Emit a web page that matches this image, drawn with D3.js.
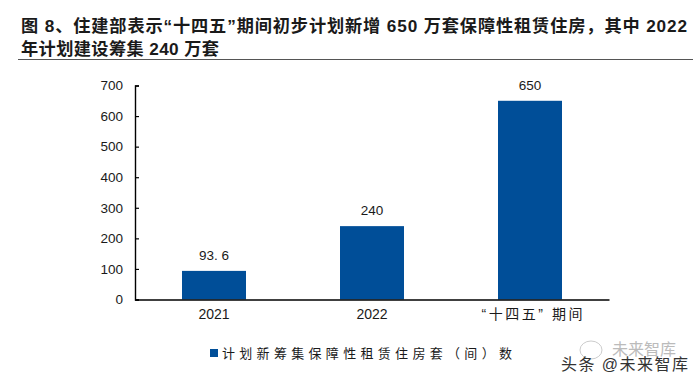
<!DOCTYPE html>
<html>
<head>
<meta charset="utf-8">
<script src="https://cdn.jsdelivr.net/npm/d3@7"></script>
<style>
  html, body { margin: 0; padding: 0; background: #fff; }
  svg { display: block; }
  text { font-family: "Liberation Sans", "Noto Sans CJK SC", sans-serif; fill: #1a1a1a; }
</style>
</head>
<body>
<div id="chart"></div>
<script>
// Data
const categories = ["2021", "2022", "“十四五” 期间"];
const values = [93.6, 240, 650];
const valueLabels = ["93. 6", "240", "650"];
const yTicks = [0, 100, 200, 300, 400, 500, 600, 700];
const titleLines = [
  "图 8、住建部表示“十四五”期间初步计划新增 650 万套保障性租赁住房，其中 2022",
  "年计划建设筹集 240 万套"
];
const legendLabel = "计划新筹集保障性租赁住房套（间）数";

const width = 700;
const height = 384;
const margin = { top: 85.5, right: 91, bottom: 84.5, left: 135 };
const blue = "#004e98";

const svg = d3.select("#chart").append("svg")
  .attr("width", width)
  .attr("height", height);

// Title
svg.selectAll(".title")
  .data(titleLines)
  .enter()
  .append("text")
  .attr("class", "title")
  .attr("x", 21)
  .attr("y", (d, i) => 32 + i * 23)
  .attr("font-size", 17.2)
  .attr("font-weight", "bold")
  .attr("textLength", (d, i) => i === 0 ? 666 : 198)
  .attr("lengthAdjust", "spacing")
  .text(d => d);

// Rule under the title
svg.append("line")
  .attr("x1", 18)
  .attr("x2", 693)
  .attr("y1", 59.5)
  .attr("y2", 59.5)
  .attr("stroke", "#555")
  .attr("stroke-width", 1.2);

// Scales
const xScale = d3.scaleBand()
  .domain(categories)
  .range([margin.left, width - margin.right])
  .paddingInner(0.595)
  .paddingOuter(0.2975);

const yScale = d3.scaleLinear()
  .domain([0, 700])
  .range([height - margin.bottom, margin.top]);

// Bars
svg.selectAll(".bar")
  .data(values)
  .enter()
  .append("rect")
  .attr("class", "bar")
  .attr("x", (d, i) => xScale(categories[i]))
  .attr("y", d => yScale(d))
  .attr("width", xScale.bandwidth())
  .attr("height", d => yScale(0) - yScale(d))
  .attr("fill", blue);

// Value labels
svg.selectAll(".value")
  .data(values)
  .enter()
  .append("text")
  .attr("class", "value")
  .attr("x", (d, i) => xScale(categories[i]) + xScale.bandwidth() / 2)
  .attr("y", d => yScale(d) - 11)
  .attr("text-anchor", "middle")
  .attr("font-size", 13.5)
  .text((d, i) => valueLabels[i]);

// Axes
const yAxis = svg.append("g")
  .attr("transform", `translate(${margin.left},0)`)
  .call(d3.axisLeft(yScale).tickValues(yTicks).tickSize(-4).tickPadding(12));
const xAxis = svg.append("g")
  .attr("transform", `translate(0,${height - margin.bottom})`)
  .call(d3.axisBottom(xScale).tickSize(0).tickPadding(10));

[yAxis, xAxis].forEach(g => {
  g.attr("font-family", null);
  g.select(".domain").attr("stroke", "#000").attr("stroke-width", 1.4);
  g.selectAll(".tick line").attr("stroke", "#000").attr("stroke-width", 1.2);
  g.selectAll("text").attr("font-size", 13.5);
});
xAxis.selectAll("text")
  .attr("font-size", 14)
  .attr("dx", (d, i) => i === 2 ? 2 : 0)
  .attr("textLength", (d, i) => i === 2 ? 101 : null);

// Legend
svg.append("rect")
  .attr("x", 210)
  .attr("y", 349)
  .attr("width", 8)
  .attr("height", 8)
  .attr("fill", blue);
svg.append("text")
  .attr("x", 222)
  .attr("y", 358)
  .attr("font-size", 13)
  .attr("textLength", 290)
  .attr("lengthAdjust", "spacing")
  .text(legendLabel);

// Watermark
svg.append("ellipse")
  .attr("cx", 591)
  .attr("cy", 350)
  .attr("rx", 11)
  .attr("ry", 9)
  .attr("fill", "none")
  .attr("stroke", "#ccc");
svg.append("text")
  .attr("x", 612)
  .attr("y", 355)
  .attr("font-size", 16)
  .style("fill", "#bbb")
  .text("未来智库");
svg.append("text")
  .attr("x", 561)
  .attr("y", 370)
  .attr("font-size", 16)
  .attr("textLength", 127)
  .style("fill", "#333")
  .text("头条 @未来智库");
</script>
</body>
</html>
